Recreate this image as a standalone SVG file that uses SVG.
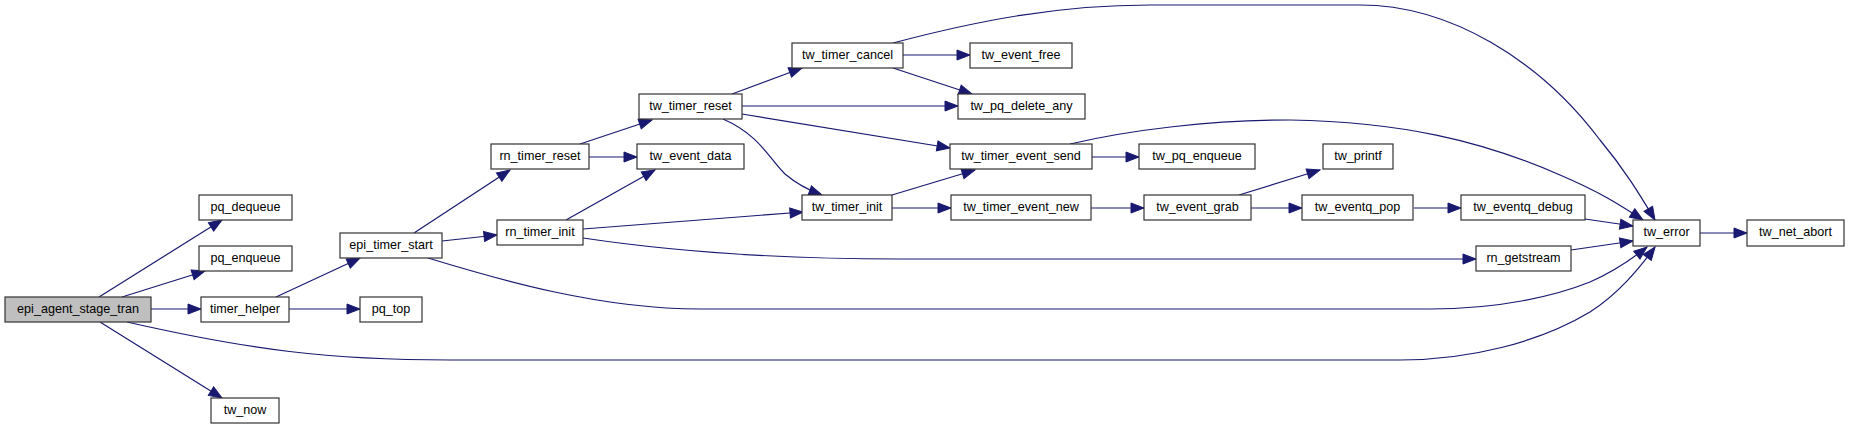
<svg xmlns="http://www.w3.org/2000/svg" width="1849" height="429" viewBox="0 0 1849 429">
<style>
.n rect{fill:#ffffff;stroke:#333333;stroke-width:1.2}
.n.root rect{fill:#bfbfbf}
.n text{font-family:"Liberation Sans",Arial,sans-serif;font-size:12.6px;fill:#000;text-anchor:middle}
#edges path{fill:none;stroke:#191970;stroke-width:1.2;marker-end:url(#arr)}
</style>
<defs>
<marker id="arr" markerUnits="userSpaceOnUse" markerWidth="14" markerHeight="11" refX="13" refY="5" orient="auto" overflow="visible">
<path d="M0,0 L13,5 L0,10 z" fill="#191970" stroke="#191970" stroke-width="1"/>
</marker>
</defs>
<rect x="0" y="0" width="1849" height="429" fill="#ffffff"/>
<g id="edges">
<path d="M99,297 L222,220"/>
<path d="M122,297 L205,271"/>
<path d="M151,309 L201,309"/>
<path d="M100,322 L222,398"/>
<path d="M127,322 C250,350 330,360 450,360 L1400,360 C1470,360 1540,342 1590,312 C1618,294 1638,270 1655,247"/>
<path d="M276,297 L360,258"/>
<path d="M289,309 L360,309"/>
<path d="M414,233 L510,170"/>
<path d="M442,241 L497,235"/>
<path d="M428,258 C500,280 600,309 700,309 L1430,309 C1500,309 1555,296 1590,282 C1615,271 1632,259 1647,247"/>
<path d="M580,144 L652,120"/>
<path d="M589,157 L637,157"/>
<path d="M566,220 L655,170"/>
<path d="M583,229 L803,212"/>
<path d="M583,238 C650,248 760,259 900,259 L1476,259"/>
<path d="M732,94 L802,68"/>
<path d="M742,106 L958,106"/>
<path d="M742,114 L950,148"/>
<path d="M723,119 C760,135 770,160 785,174 C798,185 808,190 822,195"/>
<path d="M903,55 L970,55"/>
<path d="M893,68 L972,94"/>
<path d="M893,43 C980,20 1060,5 1150,5 L1360,5 C1450,5 1540,60 1600,140 C1625,170 1640,195 1655,220"/>
<path d="M1092,157 L1139,157"/>
<path d="M1070,144 C1130,130 1210,120 1290,120 C1400,122 1480,140 1560,175 C1600,192 1620,205 1643,220"/>
<path d="M892,195 L975,170"/>
<path d="M892,208 L951,208"/>
<path d="M1091,208 L1144,208"/>
<path d="M1239,195 L1320,170"/>
<path d="M1251,208 L1302,208"/>
<path d="M1414,208 L1461,208"/>
<path d="M1585,219 L1633,226"/>
<path d="M1571,250 L1633,241"/>
<path d="M1700,233 L1747,233"/>
</g>
<g id="epi_agent_stage_tran" class="n root"><rect x="5" y="297" width="146" height="25"/><text x="78" y="312.5">epi_agent_stage_tran</text></g>
<g id="pq_dequeue" class="n"><rect x="199" y="195" width="93" height="25"/><text x="245.5" y="210.5">pq_dequeue</text></g>
<g id="pq_enqueue" class="n"><rect x="199" y="246" width="93" height="25"/><text x="245.5" y="261.5">pq_enqueue</text></g>
<g id="timer_helper" class="n"><rect x="201" y="297" width="88" height="25"/><text x="245" y="312.5">timer_helper</text></g>
<g id="tw_now" class="n"><rect x="211" y="398" width="68" height="25"/><text x="245" y="413.5">tw_now</text></g>
<g id="epi_timer_start" class="n"><rect x="340" y="233" width="102" height="25"/><text x="391" y="248.5">epi_timer_start</text></g>
<g id="pq_top" class="n"><rect x="360" y="297" width="62" height="25"/><text x="391" y="312.5">pq_top</text></g>
<g id="rn_timer_reset" class="n"><rect x="491" y="144" width="98" height="25"/><text x="540" y="159.5">rn_timer_reset</text></g>
<g id="rn_timer_init" class="n"><rect x="497" y="220" width="86" height="25"/><text x="540" y="235.5">rn_timer_init</text></g>
<g id="tw_event_data" class="n"><rect x="637" y="144" width="107" height="25"/><text x="690.5" y="159.5">tw_event_data</text></g>
<g id="tw_timer_reset" class="n"><rect x="639" y="94" width="103" height="25"/><text x="690.5" y="109.5">tw_timer_reset</text></g>
<g id="tw_timer_cancel" class="n"><rect x="792" y="43" width="111" height="25"/><text x="847.5" y="58.5">tw_timer_cancel</text></g>
<g id="tw_timer_init" class="n"><rect x="802" y="195" width="90" height="25"/><text x="847" y="210.5">tw_timer_init</text></g>
<g id="tw_event_free" class="n"><rect x="970" y="43" width="102" height="25"/><text x="1021" y="58.5">tw_event_free</text></g>
<g id="tw_pq_delete_any" class="n"><rect x="958" y="94" width="127" height="25"/><text x="1021.5" y="109.5">tw_pq_delete_any</text></g>
<g id="tw_timer_event_send" class="n"><rect x="950" y="144" width="142" height="25"/><text x="1021" y="159.5">tw_timer_event_send</text></g>
<g id="tw_timer_event_new" class="n"><rect x="951" y="195" width="140" height="25"/><text x="1021" y="210.5">tw_timer_event_new</text></g>
<g id="tw_pq_enqueue" class="n"><rect x="1139" y="144" width="116" height="25"/><text x="1197" y="159.5">tw_pq_enqueue</text></g>
<g id="tw_event_grab" class="n"><rect x="1144" y="195" width="107" height="25"/><text x="1197.5" y="210.5">tw_event_grab</text></g>
<g id="tw_printf" class="n"><rect x="1323" y="144" width="70" height="25"/><text x="1358" y="159.5">tw_printf</text></g>
<g id="tw_eventq_pop" class="n"><rect x="1302" y="195" width="111" height="25"/><text x="1357.5" y="210.5">tw_eventq_pop</text></g>
<g id="tw_eventq_debug" class="n"><rect x="1461" y="195" width="124" height="25"/><text x="1523" y="210.5">tw_eventq_debug</text></g>
<g id="rn_getstream" class="n"><rect x="1476" y="246" width="95" height="25"/><text x="1523.5" y="261.5">rn_getstream</text></g>
<g id="tw_error" class="n"><rect x="1633" y="220" width="67" height="26"/><text x="1666.5" y="235.5">tw_error</text></g>
<g id="tw_net_abort" class="n"><rect x="1747" y="220" width="97" height="26"/><text x="1795.5" y="235.5">tw_net_abort</text></g>
</svg>
